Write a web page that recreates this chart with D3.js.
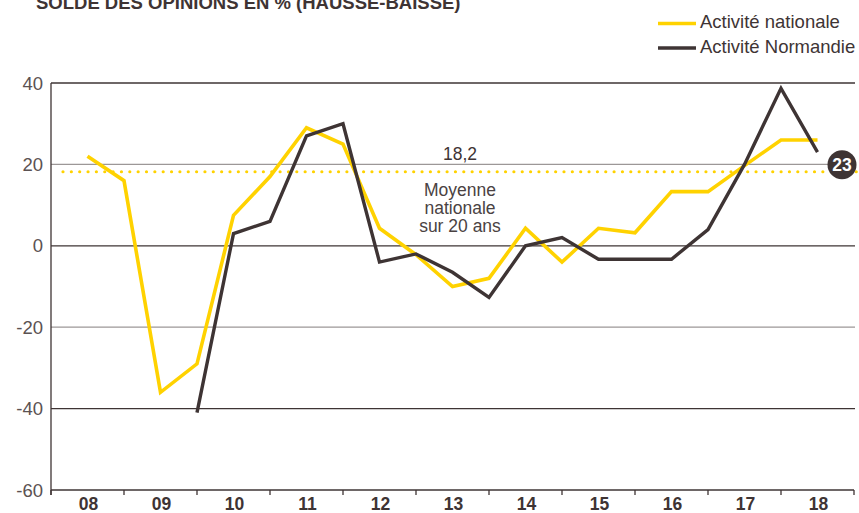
<!DOCTYPE html>
<html>
<head>
<meta charset="utf-8">
<script src="https://cdn.jsdelivr.net/npm/d3@7"></script>
<style>
  body { margin: 0; background: #fff; }
  svg { display: block; font-family: "Liberation Sans", Arial, sans-serif; }
</style>
</head>
<body>
<svg id="chart" width="859" height="513"></svg>
<script>
// semestrial survey points, from mid-2008 to mid-2018
const periods = d3.range(21).map(i => 2008.5 + i * 0.5);
const nationale = [22, 16, -36, -29, 7.5, 17, 29, 25, 4.3, -2.2, -10, -8, 4.3, -4, 4.3, 3.2, 13.3, 13.3, 19.7, 26, 26];
const normandie = [null, null, null, -41, 3, 6, 27, 30, -4, -2, -6.5, -12.7, 0, 2, -3.3, -3.3, -3.3, 4, 20, 38.7, 23];
const years = ['08', '09', '10', '11', '12', '13', '14', '15', '16', '17', '18'];
const yTicks = [40, 20, 0, -20, -40, -60];
const moyenne = 18.2;
const seriesNames = ['Activité nationale', 'Activité Normandie'];

const YELLOW = '#ffd200', DARK = '#3e3434', GRAY = '#9c9797';

const svg = d3.select('#chart');
const x = d3.scaleLinear().domain([2008, 2019]).range([51, 854]);
const y = d3.scaleLinear().domain([-60, 40]).range([490, 83]);

// title (cut at the top of the picture, as in the original)
svg.append('text')
    .attr('x', 36).attr('y', 8.5)
    .attr('font-size', 18.5).attr('font-weight', 'bold')
    .attr('fill', DARK)
    .text('SOLDE DES OPINIONS EN % (HAUSSE-BAISSE)');

// grid lines
svg.selectAll('.grid')
    .data(yTicks.slice(0, -1))
    .enter().append('line')
    .attr('x1', x(2008)).attr('x2', 855)
    .attr('y1', d => y(d)).attr('y2', d => y(d))
    .attr('stroke', (d, i) => i % 2 ? GRAY : DARK)
    .attr('stroke-width', 1.3);

// y labels
svg.selectAll('.ylab')
    .data(yTicks)
    .enter().append('text')
    .attr('x', 43).attr('y', d => y(d))
    .attr('dy', '0.36em')
    .attr('text-anchor', 'end')
    .attr('font-size', 18.5)
    .attr('fill', '#5b5252')
    .text(d => d);

// axes
svg.append('line')
    .attr('x1', x(2008)).attr('x2', x(2008))
    .attr('y1', y(40)).attr('y2', y(-60) + 5)
    .attr('stroke', DARK).attr('stroke-width', 1.3);
svg.append('line')
    .attr('x1', x(2008)).attr('x2', x(2019))
    .attr('y1', y(-60)).attr('y2', y(-60))
    .attr('stroke', DARK).attr('stroke-width', 1.3);
svg.selectAll('.xtick')
    .data(d3.range(2008, 2020))
    .enter().append('line')
    .attr('x1', d => x(d)).attr('x2', d => x(d))
    .attr('y1', y(-60)).attr('y2', y(-60) + 5)
    .attr('stroke', DARK).attr('stroke-width', 1.3);
svg.selectAll('.xlab')
    .data(years)
    .enter().append('text')
    .attr('x', (d, i) => x(2008.5 + i) + 1)
    .attr('y', 510)
    .attr('text-anchor', 'middle')
    .attr('font-size', 17.5).attr('font-weight', 'bold')
    .attr('fill', DARK)
    .text(d => d);

// average dotted line
svg.append('line')
    .attr('x1', 63).attr('x2', 859)
    .attr('y1', y(moyenne)).attr('y2', y(moyenne))
    .attr('stroke', YELLOW)
    .attr('stroke-width', 3.2)
    .attr('stroke-linecap', 'round')
    .attr('stroke-dasharray', '0 8.35');

svg.append('text')
    .attr('x', 460).attr('y', y(moyenne) - 12)
    .attr('text-anchor', 'middle')
    .attr('font-size', 17.5).attr('fill', DARK)
    .text('18,2');
svg.append('text')
    .attr('x', 460).attr('y', y(moyenne) + 24)
    .attr('text-anchor', 'middle')
    .attr('font-size', 17.5).attr('fill', '#4a4242')
    .selectAll('tspan')
    .data(['Moyenne', 'nationale', 'sur 20 ans'])
    .enter().append('tspan')
    .attr('x', 460)
    .attr('dy', (d, i) => i ? 18.3 : 0)
    .text(d => d);

// series
const line = d3.line()
    .defined(d => d[1] !== null)
    .x(d => x(d[0]))
    .y(d => y(d[1]));

svg.append('path')
    .datum(periods.map((p, i) => [p, nationale[i]]))
    .attr('d', line)
    .attr('fill', 'none')
    .attr('stroke', YELLOW)
    .attr('stroke-width', 3.6);

svg.append('path')
    .datum(periods.map((p, i) => [p, normandie[i]]))
    .attr('d', line)
    .attr('fill', 'none')
    .attr('stroke', DARK)
    .attr('stroke-width', 3.4);

// last value badge
const last = normandie[normandie.length - 1];
const bx = x(2019) - 12, by = y(last) + 12.5;
svg.append('circle')
    .attr('cx', bx).attr('cy', by).attr('r', 14.5)
    .attr('fill', DARK);
svg.append('text')
    .attr('x', bx).attr('y', by)
    .attr('dy', '0.36em')
    .attr('text-anchor', 'middle')
    .attr('font-size', 17.5).attr('font-weight', 'bold')
    .attr('fill', '#fff')
    .text(last);

// legend
const legend = svg.selectAll('.leg')
    .data(seriesNames)
    .enter().append('g')
    .attr('transform', (d, i) => `translate(658, ${23.5 + i * 24.5})`);
legend.append('line')
    .attr('x1', 0).attr('x2', 38)
    .attr('stroke', (d, i) => i ? DARK : YELLOW)
    .attr('stroke-width', 3.6);
legend.append('text')
    .attr('x', 42).attr('y', 4.5)
    .attr('font-size', 18.5).attr('fill', DARK)
    .text(d => d);
</script>
</body>
</html>
